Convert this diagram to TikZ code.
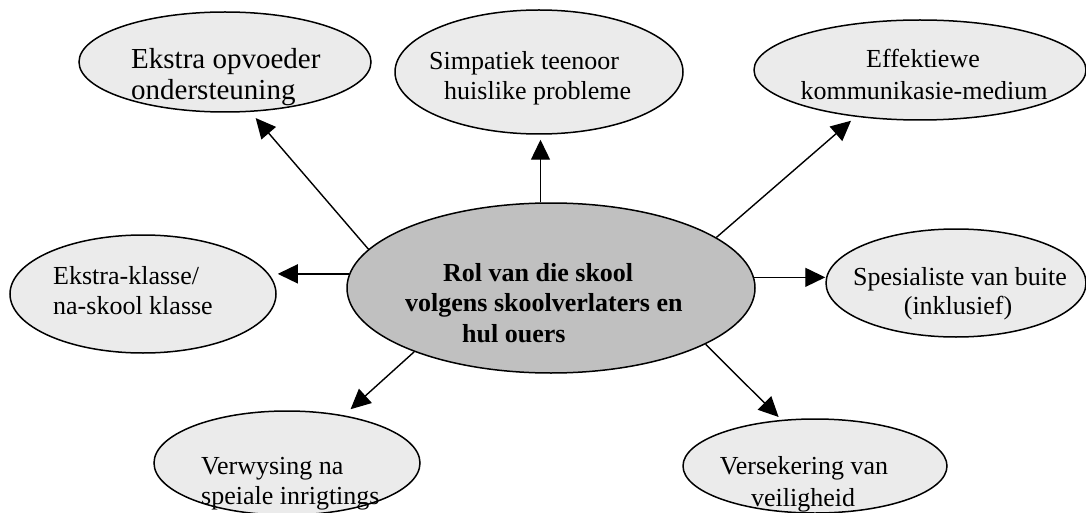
\documentclass[tikz,border=0pt]{standalone}
\usepackage{fontspec}
\setmainfont{Liberation Serif}
\usetikzlibrary{shapes.geometric,arrows.meta}
\definecolor{lightg}{HTML}{EBEBEB}
\definecolor{darkg}{HTML}{C0C0C0}
\tikzset{
  ell/.style={ellipse, draw, line width=1.5pt, fill=lightg, inner sep=0pt},
  hub/.style={ellipse, draw, line width=1.5pt, fill=darkg, inner sep=0pt},
  txt/.style={inner sep=0pt, font=\fontsize{26}{31}\selectfont},
  bigtxt/.style={inner sep=0pt, font=\fontsize{29}{31}\selectfont},
  hubtxt/.style={inner sep=0pt, font=\fontsize{26}{31}\selectfont\bfseries},
  arr/.style={line width=1.4pt, -{Triangle[length=20pt,width=19pt]}}
}
\begin{document}
\begin{tikzpicture}[x=1pt,y=-1pt]
\useasboundingbox (0,0) rectangle (1086,513);
% ellipses
\node[ell, minimum width=292pt, minimum height=100pt] (E1) at (225,62) {};
\node[ell, minimum width=288pt, minimum height=124pt] (S) at (539,72) {};
\node[ell, minimum width=332pt, minimum height=100pt] (F) at (920,70) {};
\node[ell, minimum width=266pt, minimum height=118pt] (K) at (143,294) {};
\node[hub, minimum width=408pt, minimum height=170pt] (C) at (551,288) {};
\node[ell, minimum width=260pt, minimum height=108pt] (P) at (956,283) {};
\node[ell, minimum width=266pt, minimum height=104pt] (V) at (287,463) {};
\node[ell, minimum width=264pt, minimum height=94pt] (W) at (815,466) {};
% connectors
\draw[arr, shorten >=8pt] (C.168.3) -- (E1.-63.8);
\draw[arr, shorten >=5pt] (C.97.4) -- (C.97.4 |- S.south);
\draw[arr, shorten >=6pt] (C.17.4) -- (F.-144.5);
\draw[arr, shorten >=1pt] (C.176.6) -- (C.176.6 -| K.east);
\draw[arr] (C.3.4) -- (C.3.4 -| P.west);
\draw[arr, shorten >=9pt] (C.205.9) -- (V.40.1);
\draw[arr, shorten >=4pt] (C.-20.2) -- (W.126.3);
% texts
\node[bigtxt, anchor=base west] (e1a) at (131,69) {Ekstra opvoeder};
\node[bigtxt, anchor=base west] (e1b) at (131,100) {ondersteuning};
\node[txt, anchor=base west] (sa) at (429,70) {Simpatiek teenoor};
\node[txt, anchor=base west] (sb) at (444,100) {huislike probleme};
\node[txt, anchor=base] (fa) at (923,68) {Effektiewe};
\node[txt, anchor=base] (fb) at (924,100) {kommunikasie-medium};
\node[txt, anchor=base west] (ka) at (53,284) {Ekstra-klasse/};
\node[txt, anchor=base west] (kb) at (53,314) {na-skool klasse};
\node[hubtxt, anchor=base west] (ca) at (443,281) {Rol van die skool};
\node[hubtxt, anchor=base west] (cb) at (405,311) {volgens skoolverlaters en};
\node[hubtxt, anchor=base west] (cc) at (462,342) {hul ouers};
\node[txt, anchor=base] (pa) at (960,285) {Spesialiste van buite};
\node[txt, anchor=base] (pb) at (958,314) {(inklusief)};
\node[txt, anchor=base west] (va) at (201,474) {Verwysing na};
\node[txt, anchor=base west] (vb) at (201,504) {speiale inrigtings};
\node[txt, anchor=base] (wa) at (804,474) {Versekering van};
\node[txt, anchor=base] (wb) at (803,506) {veiligheid};
\end{tikzpicture}
\end{document}
